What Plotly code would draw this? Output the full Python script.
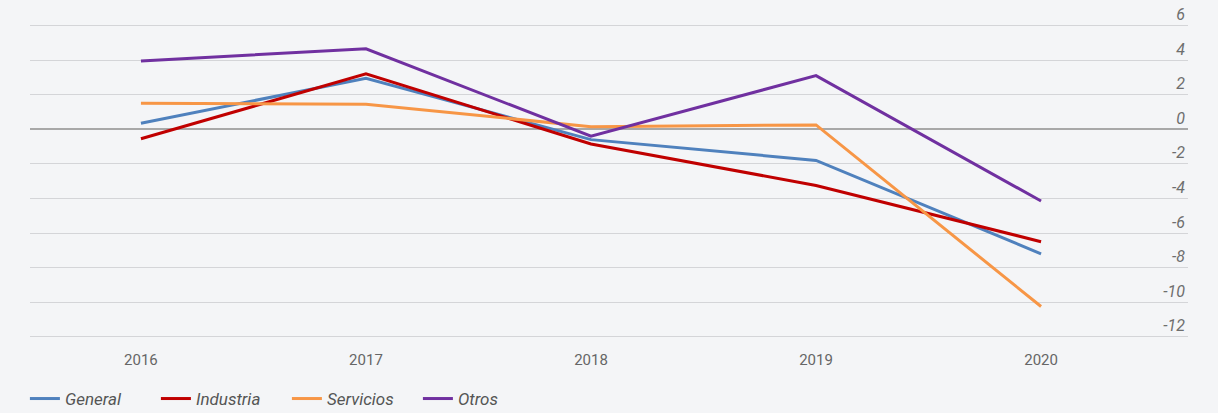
import plotly.graph_objects as go

years = ["2016", "2017", "2018", "2019", "2020"]
general = [0.35, 2.95, -0.6, -1.8, -7.2]
industria = [-0.55, 3.2, -0.85, -3.25, -6.5]
servicios = [1.5, 1.45, 0.15, 0.25, -10.25]
otros = [3.95, 4.65, -0.4, 3.1, -4.15]
y_ticks = [6, 4, 2, 0, -2, -4, -6, -8, -10, -12]

font_family = "Roboto, sans-serif"

series = [
    ("General", general, "#4f81bd"),
    ("Industria", industria, "#c00000"),
    ("Servicios", servicios, "#f79646"),
    ("Otros", otros, "#7030a0"),
]

fig = go.Figure()
for name, vals, color in series:
    fig.add_trace(
        go.Scatter(
            x=years,
            y=vals,
            mode="lines",
            name=name,
            line=dict(color=color, width=3),
        )
    )

fig.update_xaxes(
    type="category",
    range=[-0.493, 4.653],
    showgrid=False,
    zeroline=False,
    showline=False,
    ticks="",
    tickfont=dict(family=font_family, size=15, color="#666666"),
    ticklabelstandoff=7,
)
fig.update_yaxes(
    side="right",
    range=[-12.3, 7.3],
    tickvals=y_ticks,
    ticktext=[str(v) for v in y_ticks],
    showgrid=True,
    gridcolor="#d4d5d8",
    gridwidth=1,
    zeroline=True,
    zerolinecolor="#a8a8a8",
    zerolinewidth=2,
    ticks="",
    ticklabelposition="inside",
    ticklabelshift=-11,
    ticklabelstandoff=0,
    tickfont=dict(family=font_family, size=16, color="#6e6e6e", style="italic"),
)

fig.update_layout(
    width=1218,
    height=413,
    margin=dict(l=30, r=30, t=3, b=71, autoexpand=False),
    paper_bgcolor="#f4f5f7",
    plot_bgcolor="#f4f5f7",
    legend=dict(
        orientation="h",
        x=-0.0044,
        xanchor="left",
        y=-0.115,
        yanchor="top",
        entrywidth=86,
        itemwidth=30,
        font=dict(family=font_family, size=17, color="#555555", style="italic"),
    ),
)

fig.write_html(
    "out.html",
    config={"displayModeBar": False},
    post_script="document.body.style.margin='0';",
)
